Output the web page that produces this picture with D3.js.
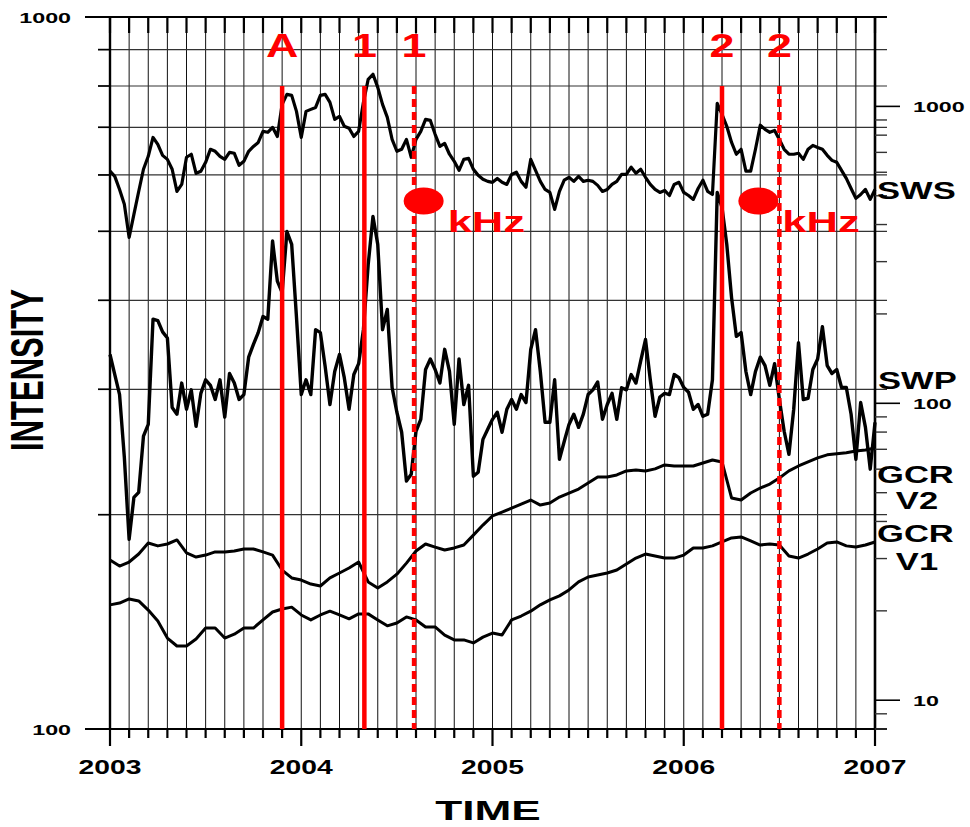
<!DOCTYPE html>
<html lang="en">
<head>
<meta charset="UTF-8">
<title>Intensity vs time</title>
<style>
  body { margin: 0; background: #fff; }
  svg { display: block; font-family: "Liberation Sans", Arial, sans-serif; font-weight: bold; }
</style>
</head>
<body>
<svg id="chart" width="970" height="827"></svg>
<script src="https://d3js.org/d3.v7.min.js"></script>
<script>
// sampling times for SWS / SWP (years)
const years = [
  2003, 2003.025, 2003.05, 2003.075, 2003.1, 2003.125, 2003.15, 2003.175, 2003.2, 2003.225,
  2003.25, 2003.275, 2003.3, 2003.325, 2003.35, 2003.375, 2003.4, 2003.425, 2003.45, 2003.475,
  2003.5, 2003.525, 2003.55, 2003.575, 2003.6, 2003.625, 2003.65, 2003.675, 2003.7, 2003.725,
  2003.75, 2003.775, 2003.8, 2003.825, 2003.85, 2003.875, 2003.9, 2003.925, 2003.95, 2003.975,
  2004, 2004.025, 2004.05, 2004.075, 2004.1, 2004.125, 2004.15, 2004.175, 2004.2, 2004.225,
  2004.25, 2004.275, 2004.3, 2004.325, 2004.35, 2004.375, 2004.4, 2004.425, 2004.45, 2004.475,
  2004.5, 2004.525, 2004.55, 2004.575, 2004.6, 2004.625, 2004.65, 2004.675, 2004.7, 2004.725,
  2004.75, 2004.775, 2004.8, 2004.825, 2004.85, 2004.875, 2004.9, 2004.925, 2004.95, 2004.975,
  2005, 2005.025, 2005.05, 2005.075, 2005.1, 2005.125, 2005.15, 2005.175, 2005.2, 2005.225,
  2005.25, 2005.275, 2005.3, 2005.325, 2005.35, 2005.375, 2005.4, 2005.425, 2005.45, 2005.475,
  2005.5, 2005.525, 2005.55, 2005.575, 2005.6, 2005.625, 2005.65, 2005.675, 2005.7, 2005.725,
  2005.75, 2005.775, 2005.8, 2005.825, 2005.85, 2005.875, 2005.9, 2005.925, 2005.95, 2005.975,
  2006, 2006.025, 2006.05, 2006.075, 2006.1, 2006.125, 2006.15, 2006.175, 2006.2, 2006.225,
  2006.25, 2006.275, 2006.3, 2006.325, 2006.35, 2006.375, 2006.4, 2006.425, 2006.45, 2006.475,
  2006.5, 2006.525, 2006.55, 2006.575, 2006.6, 2006.625, 2006.65, 2006.675, 2006.7, 2006.725,
  2006.75, 2006.775, 2006.8, 2006.825, 2006.85, 2006.875, 2006.9, 2006.925, 2006.95, 2006.975,
  2007
];

// solar wind speed (right axis)
const swsValues = [
  605, 581, 525, 468, 362, 433, 517, 614, 679, 786,
  745, 684, 663, 614, 517, 546, 674, 690, 595, 605,
  648, 717, 706, 679, 663, 700, 695, 633, 653, 706,
  733, 756, 824, 818, 850, 792, 1016, 1098, 1089, 962,
  786, 962, 977, 992, 1089, 1098, 1032, 904, 925, 857,
  844, 792, 824, 1032, 1233, 1283, 1159, 1016, 918, 774,
  706, 717, 774, 674, 774, 824, 904, 897, 805, 733,
  750, 690, 653, 609, 663, 668, 614, 586, 568, 559,
  555, 572, 555, 546, 590, 600, 559, 534, 663, 609,
  559, 525, 513, 450, 517, 564, 577, 559, 581, 559,
  564, 559, 542, 517, 525, 546, 559, 590, 590, 624,
  595, 614, 577, 546, 525, 513, 521, 501, 546, 555,
  513, 501, 486, 529, 564, 517, 505, 1023, 940, 857,
  756, 690, 717, 605, 605, 717, 864, 837, 818, 830,
  774, 717, 690, 690, 695, 663, 717, 739, 727, 717,
  684, 658, 648, 609, 572, 529, 490, 505, 525, 486,
  525
];

// solar wind pressure (right axis)
const swpValues = [
  146, 125, 107, 65.8, 34.8, 48.2, 50.1, 77.5, 84.9, 192,
  190, 174, 166, 96.8, 91.9, 117, 95.5, 111, 83.6, 108,
  120, 115, 103, 120, 89.8, 126, 117, 103, 107, 143,
  158, 173, 196, 192, 352, 258, 236, 379, 343, 195,
  107, 120, 107, 177, 173, 133, 99.1, 128, 146, 122,
  95.5, 125, 136, 177, 293, 426, 343, 177, 207, 113,
  93.3, 79.9, 54.7, 57.7, 80.5, 88.3, 130, 141, 130, 117,
  152, 128, 84.9, 141, 99.1, 115, 56.8, 58.6, 75.6, 81.8,
  88.3, 93.3, 79.9, 95.5, 103, 95.5, 107, 100.6, 152, 177,
  128, 86.3, 86.3, 120, 64.8, 74.4, 84.9, 91.9, 83.0, 91.9,
  107, 111, 118, 88.3, 99.1, 108, 88.3, 112.8, 111, 125,
  117, 139, 164, 120, 90.4, 105, 108, 107, 125, 122,
  113, 109, 95.5, 99.1, 90.4, 91.9, 120, 513, 457, 343,
  227, 168, 173, 128, 107, 128, 143, 134, 115, 136,
  103, 80.5, 67.3, 95.5, 160, 103, 104, 130, 141, 181,
  134, 126, 130, 113, 113, 91.9, 64.8, 100.6, 83.0, 60.0,
  86.3
];

// sampling times for the cosmic ray curves
const gcrYears = [
  2003, 2003.05, 2003.1, 2003.15, 2003.2, 2003.25, 2003.3, 2003.35, 2003.4, 2003.45,
  2003.5, 2003.55, 2003.6, 2003.65, 2003.7, 2003.75, 2003.8, 2003.85, 2003.9, 2003.95,
  2004, 2004.05, 2004.1, 2004.15, 2004.2, 2004.25, 2004.3, 2004.35, 2004.4, 2004.45,
  2004.5, 2004.55, 2004.6, 2004.65, 2004.7, 2004.75, 2004.8, 2004.85, 2004.9, 2004.95,
  2005, 2005.05, 2005.1, 2005.15, 2005.2, 2005.25, 2005.3, 2005.35, 2005.4, 2005.45,
  2005.5, 2005.55, 2005.6, 2005.65, 2005.7, 2005.75, 2005.8, 2005.85, 2005.9, 2005.95,
  2006, 2006.05, 2006.1, 2006.15, 2006.2, 2006.25, 2006.3, 2006.35, 2006.4, 2006.45,
  2006.5, 2006.55, 2006.6, 2006.65, 2006.7, 2006.75, 2006.8, 2006.85, 2006.9, 2006.95,
  2007
];

// GCR intensity, Voyager 2 (left axis)
const gcrV2 = [
  172.7, 169.4, 171.6, 176.1, 182.5, 180.8, 181.9, 184.3, 176.7, 174.4,
  175.5, 177.3, 177.3, 177.8, 179.0, 179.0, 177.3, 175.5, 167.2, 163.0,
  161.9, 159.8, 158.8, 163.0, 165.6, 168.3, 171.6, 160.9, 157.8, 160.9,
  165.0, 171.0, 177.8, 181.9, 180.1, 178.4, 179.6, 181.3, 187.2, 193.4,
  199.2, 201.7, 204.3, 207.0, 209.7, 206.3, 207.7, 211.7, 214.5, 217.3,
  221.5, 225.9, 225.9, 227.4, 230.4, 231.1, 230.4, 231.9, 234.9, 234.1,
  234.1, 234.1, 236.4, 238.7, 237.2, 211.1, 209.7, 214.5, 218.0, 220.8,
  225.2, 230.4, 234.1, 237.2, 240.3, 242.7, 243.5, 244.3, 245.7, 246.5,
  248.1
];

// GCR intensity, Voyager 1 (left axis)
const gcrV1 = [
  149.4, 150.3, 152.3, 151.3, 146.9, 141.8, 134.2, 130.8, 130.8, 133.8,
  138.6, 138.6, 134.2, 135.9, 138.6, 138.6, 142.3, 146.0, 147.4, 148.3,
  144.6, 142.3, 144.6, 146.4, 144.6, 142.8, 145.1, 145.1, 142.3, 139.6,
  140.9, 143.7, 142.3, 139.1, 139.1, 135.5, 133.4, 133.4, 132.1, 134.6,
  136.4, 135.5, 142.3, 144.1, 146.4, 149.4, 151.8, 153.8, 156.8, 160.9,
  163.5, 164.5, 165.6, 167.2, 170.5, 173.8, 176.1, 175.0, 173.8, 173.8,
  175.5, 179.6, 179.6, 180.8, 183.1, 185.5, 186.1, 183.7, 181.3, 181.9,
  181.3, 175.0, 173.8, 176.1, 179.0, 182.5, 183.1, 180.8, 180.1, 181.3,
  183.1
];

// red event markers
const eventYears = [2003.9, 2004.33, 2004.59, 2006.2, 2006.5];
const eventLabels = ["A", "1", "1", "2", "2"];
const eventDashed = [false, false, true, false, true];
const dotYears = [2004.64, 2006.39];
const dotValue = 480;

// axis labels / ticks
const yearTicks = [2003, 2004, 2005, 2006, 2007];
const leftMajor = [100, 1000];
const leftMinor = [200, 300, 400, 500, 600, 700, 800, 900];
const rightMajor = [10, 100, 1000];
const rightMinor = [8, 9, 20, 30, 40, 50, 60, 70, 80, 90, 200, 300, 400, 500, 600, 700, 800, 900];

const svg = d3.select("#chart");
const plotL = 110, plotR = 875, plotT = 17, plotB = 729;

const x = d3.scaleLinear().domain([2003, 2007]).range([plotL, plotR]);
const yL = d3.scaleLog().domain([100, 1000]).range([plotB, plotT]);
const yR = d3.scaleLog().domain([8, 2000]).range([plotB, plotT]);

// stretched text helper (the source figure is wide-stretched)
function label(txt, tx, ty, size, sx, anchor, fill) {
  return svg.append("text")
    .attr("transform", `translate(${tx},${ty}) scale(${sx},1)`)
    .attr("text-anchor", anchor || "middle")
    .attr("font-size", size)
    .attr("fill", fill || "#000")
    .text(txt);
}

// grid
const tenths = x.ticks(40);
svg.append("g").selectAll("line").data(tenths).join("line")
  .attr("x1", d => x(d)).attr("x2", d => x(d))
  .attr("y1", plotT).attr("y2", plotB)
  .attr("stroke", "#111").attr("stroke-width", 1);

svg.append("g").selectAll("line").data(leftMinor).join("line")
  .attr("x1", 98).attr("x2", 887)
  .attr("y1", d => yL(d)).attr("y2", d => yL(d))
  .attr("stroke", "#333").attr("stroke-width", 1.2);

// frame lines top / bottom
[plotT, plotB].forEach(yy => {
  svg.append("line").attr("x1", 85).attr("x2", 887).attr("y1", yy).attr("y2", yy)
    .attr("stroke", "#000").attr("stroke-width", 2);
});
svg.append("line").attr("x1", plotL).attr("x2", plotL).attr("y1", plotT).attr("y2", plotB)
  .attr("stroke", "#000").attr("stroke-width", 2.4);
svg.append("line").attr("x1", plotR).attr("x2", plotR).attr("y1", plotT).attr("y2", plotB)
  .attr("stroke", "#000").attr("stroke-width", 2.6);

// tick marks along top and bottom
svg.append("g").selectAll("line").data(tenths).join("line")
  .attr("x1", d => x(d)).attr("x2", d => x(d))
  .attr("y1", plotT).attr("y2", plotT + 16)
  .attr("stroke", "#000").attr("stroke-width", 2.2);
svg.append("g").selectAll("line").data(tenths).join("line")
  .attr("x1", d => x(d)).attr("x2", d => x(d))
  .attr("y1", plotB)
  .attr("y2", d => yearTicks.includes(Math.round(d * 10) / 10) ? plotB + 17 : plotB + 9)
  .attr("stroke", "#000").attr("stroke-width", 2.2);

// left minor ticks
svg.append("g").selectAll("line").data(leftMinor).join("line")
  .attr("x1", 98).attr("x2", plotL)
  .attr("y1", d => yL(d)).attr("y2", d => yL(d))
  .attr("stroke", "#000").attr("stroke-width", 1.6);

// right axis ticks
svg.append("g").selectAll("line").data(rightMinor).join("line")
  .attr("x1", plotR).attr("x2", 887)
  .attr("y1", d => yR(d)).attr("y2", d => yR(d))
  .attr("stroke", "#333").attr("stroke-width", 1.4);
svg.append("g").selectAll("line").data(rightMajor).join("line")
  .attr("x1", plotR).attr("x2", 900)
  .attr("y1", d => yR(d)).attr("y2", d => yR(d))
  .attr("stroke", "#000").attr("stroke-width", 1.6);

// axis labels
leftMajor.forEach(v => label(String(v), 71, yL(v) + 6, 15.5, 1.5, "end"));
rightMajor.forEach(v => label(String(v), 913, yR(v) + 5.5, 15.5, 1.5, "start"));
yearTicks.forEach(v => label(String(v), x(v), 774, 19.5, 1.45, "middle"));
label("TIME", 488, 820, 28.5, 1.55, "middle");
svg.append("text")
  .attr("transform", "translate(43,370) scale(1.5,1) rotate(-90)")
  .attr("text-anchor", "middle")
  .attr("font-size", 31)
  .text("INTENSITY");

// data lines
const lineR = d3.line().x(d => x(d[0])).y(d => yR(d[1]));
const lineL = d3.line().x(d => x(d[0])).y(d => yL(d[1]));

const curves = [
  { pts: d3.zip(years, swsValues), gen: lineR, w: 3.2 },
  { pts: d3.zip(years, swpValues), gen: lineR, w: 3.4 },
  { pts: d3.zip(gcrYears, gcrV2), gen: lineL, w: 3 },
  { pts: d3.zip(gcrYears, gcrV1), gen: lineL, w: 3 }
];
curves.forEach(c => {
  svg.append("path")
    .attr("d", c.gen(c.pts))
    .attr("fill", "none")
    .attr("stroke", "#000")
    .attr("stroke-width", c.w)
    .attr("stroke-linejoin", "round");
});

// red event lines
eventYears.forEach((yr, i) => {
  svg.append("line")
    .attr("x1", x(yr)).attr("x2", x(yr))
    .attr("y1", yL(800)).attr("y2", plotB)
    .attr("stroke", "#ff0000")
    .attr("stroke-width", 4.5)
    .attr("stroke-dasharray", eventDashed[i] ? "8,5" : null);
  label(eventLabels[i], x(yr), 57, 34, 1.32, "middle", "#ff0000");
});

// red dots with kHz
dotYears.forEach(yr => {
  svg.append("ellipse")
    .attr("cx", x(yr)).attr("cy", yR(dotValue))
    .attr("rx", 20).attr("ry", 13.5)
    .attr("fill", "#ff0000");
  label("kHz", x(yr) + 24, yR(dotValue) + 31, 30, 1.45, "start", "#ff0000");
});

// series names
label("SWS", 877, 199, 24, 1.44, "start");
label("SWP", 878, 389, 24, 1.44, "start");
label("GCR", 877, 483, 24, 1.44, "start");
label("V2", 917, 509, 24, 1.44, "middle");
label("GCR", 877, 542, 24, 1.44, "start");
label("V1", 917, 570, 24, 1.44, "middle");
</script>
</body>
</html>
